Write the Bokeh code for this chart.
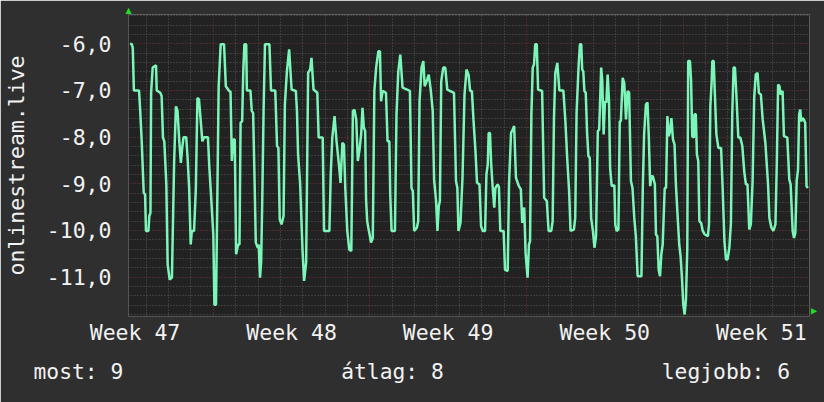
from bokeh.plotting import figure
from bokeh.models import Range1d, FixedTicker, Grid, Title
from bokeh.embed import file_html
from bokeh.resources import INLINE

# ---- data (x: days since Monday of week 47, y: value) ----
days = [
    3.28, 3.36, 3.40, 3.45, 3.68, 3.73, 3.80, 3.89, 3.95, 3.99, 4.10, 4.14, 4.19, 4.22, 4.29, 4.44,
    4.47, 4.63, 4.69, 4.75, 4.81, 4.90, 4.96, 5.05, 5.15, 5.25, 5.33, 5.40, 5.48, 5.55, 5.61, 5.67,
    5.79, 5.85, 5.92, 5.99, 6.04, 6.14, 6.22, 6.29, 6.36, 6.44, 6.51, 6.59, 6.76, 6.82, 6.91, 7.00,
    7.05, 7.12, 7.16, 7.24, 7.33, 7.48, 7.56, 7.71, 7.77, 7.83, 7.89, 7.96, 8.02, 8.11,
    8.17, 8.22, 8.29, 8.34, 8.39, 8.47, 8.50, 8.66, 8.72, 8.78, 8.84, 8.90, 8.99, 9.03, 9.09, 9.14,
    9.19, 9.25, 9.31, 9.51, 9.58, 9.77, 9.85, 9.91, 9.97, 10.05, 10.14, 10.20, 10.29, 10.39, 10.44,
    10.50, 10.69, 10.74, 10.79, 10.88, 10.99, 11.06, 11.15, 11.24, 11.33, 11.39, 11.48, 11.65, 11.71,
    11.89, 11.95, 12.19, 12.25, 12.32, 12.42, 12.51, 12.60, 12.69, 12.77, 12.84, 12.90, 12.99, 13.08,
    13.17,
    13.24, 13.31, 13.39, 13.46, 13.53, 13.61, 13.67, 13.73, 13.79, 13.83, 13.88, 13.93, 13.99, 14.05,
    14.13, 14.20, 14.28, 14.38, 14.45, 14.50, 14.57, 14.72, 14.79, 14.87, 14.91, 14.97, 15.12, 15.19,
    15.27, 15.36, 15.46, 15.79, 15.86, 15.92, 15.98, 16.10, 16.16, 16.22, 16.31, 16.39, 16.45, 16.54,
    16.63, 16.72, 16.81, 16.87, 16.96, 17.02, 17.08, 17.13, 17.19, 17.28, 17.37, 17.46, 17.76, 17.85,
    17.91, 17.96, 18.05, 18.14, 18.23, 18.32,
    18.41, 18.48, 18.56, 18.63, 18.72, 18.79, 18.90, 18.97, 19.05, 19.15, 19.21, 19.27, 19.31, 19.37,
    19.42, 19.48, 19.56, 19.61, 19.71, 19.77, 19.83, 19.98, 20.04, 20.16, 20.22, 20.31, 20.38, 20.45,
    20.53, 20.66, 20.75, 20.81, 20.85, 20.90, 20.96, 21.05, 21.11, 21.16, 21.22, 21.28, 21.34, 21.39,
    21.46, 21.52, 21.70, 21.79, 21.91, 21.99, 22.11, 22.17, 22.23, 22.29, 22.38, 22.47, 22.65, 22.74,
    22.82, 22.91, 22.97, 23.12, 23.18, 23.24, 23.33, 23.39, 23.45,
    23.49, 23.54, 23.59, 23.65, 23.71, 23.77, 23.83, 23.89, 23.97, 24.04, 24.11, 24.19, 24.25, 24.34,
    24.39, 24.45, 24.51, 24.57, 24.63, 24.69, 24.74, 24.81, 24.93, 24.97, 25.03, 25.11, 25.17, 25.22,
    25.30, 25.37, 25.45, 25.52, 25.59, 25.67, 25.74, 25.82, 25.89, 25.97, 26.14, 26.20, 26.26, 26.34,
    26.41, 26.47, 26.53, 26.59, 26.65, 26.74, 26.79, 26.85, 26.91, 26.97, 27.03, 27.09, 27.18, 27.24,
    27.30, 27.36, 27.42, 27.48, 27.55, 27.62, 27.68, 27.77, 27.83, 27.89, 27.95, 28.01, 28.07, 28.13,
    28.19, 28.23, 28.31, 28.36,
    28.41, 28.48, 28.51, 28.57, 28.62, 28.68, 28.73, 28.81, 28.88, 28.96, 29.11, 29.16, 29.22, 29.28,
    29.31, 29.37, 29.42, 29.49, 29.58, 29.70, 29.77, 29.85, 29.92, 29.99, 30.07, 30.14, 30.20, 30.26,
    30.32, 30.38, 30.47, 30.56, 30.65, 30.74, 30.81, 30.88, 30.96, 31.03, 31.11, 31.18, 31.25, 31.33,
    31.39, 31.48, 31.56, 31.68, 31.80, 31.86, 31.95, 32.04, 32.13, 32.19, 32.25, 32.31, 32.36, 32.45,
    32.51, 32.66, 32.75, 32.81, 32.90, 32.96, 33.02, 33.08, 33.14, 33.19, 33.24, 33.28, 33.34, 33.40,
    33.46, 33.52, 33.58,
]

values = [
    -6.00, -6.01, -6.09, -7.00, -7.00, -7.41, -8.09, -9.19, -9.23, -10.01, -10.01, -9.69, -9.62, -7.05, -6.51, -6.46,
    -7.00, -7.05, -7.12, -8.01, -8.09, -9.01, -10.73, -11.05, -11.01, -8.51, -7.34, -7.44, -8.09, -8.55, -8.23, -8.00,
    -8.00, -8.44, -9.09, -10.30, -10.01, -10.01, -9.09, -7.16, -7.19, -7.66, -8.09, -8.00, -8.00, -8.62, -9.34, -10.08,
    -11.59, -11.59, -10.08, -6.91, -6.01, -6.01, -6.91, -7.01, -7.03, -8.51, -8.05, -8.05, -10.51, -10.30,
    -10.30, -7.69, -7.66, -6.59, -6.01, -6.01, -7.00, -7.00, -7.44, -7.48, -8.80, -10.26, -10.37, -10.30, -11.01, -10.66,
    -9.30, -7.37, -6.01, -6.01, -7.00, -7.00, -8.19, -8.23, -9.76, -9.87, -9.69, -7.30, -6.59, -6.12, -6.51,
    -6.98, -7.01, -7.44, -8.37, -8.98, -10.44, -11.08, -10.69, -6.62, -6.55, -6.30, -6.98, -7.05, -8.01,
    -8.01, -10.01, -10.01, -8.80, -8.01, -7.55, -8.09, -8.51, -8.98, -8.12, -8.16, -9.09, -10.01, -10.41,
    -10.44,
    -7.44, -7.41, -7.62, -8.51, -8.30, -7.94, -7.37, -7.80, -7.87, -9.34, -9.80, -9.94, -10.09, -10.26,
    -10.16, -7.01, -6.51, -6.16, -6.16, -7.23, -7.01, -7.05, -8.09, -8.09, -9.23, -10.01, -10.01, -7.51,
    -6.59, -6.23, -6.94, -7.01, -9.09, -9.16, -10.01, -9.94, -9.80, -7.23, -6.51, -6.37, -6.91, -6.80,
    -6.66, -6.98, -7.44, -8.91, -9.37, -10.01, -9.48, -9.37, -6.80, -6.51, -6.51, -6.98, -7.05, -8.94,
    -9.09, -10.01, -9.84, -8.87, -7.09, -6.55,
    -6.66, -7.01, -7.01, -7.62, -8.30, -8.98, -9.01, -9.91, -10.01, -10.01, -8.80, -8.59, -7.91, -7.91,
    -8.55, -9.01, -9.51, -9.09, -9.01, -9.07, -10.01, -10.01, -10.84, -10.87, -9.01, -7.91, -7.84, -7.76,
    -8.87, -9.05, -9.12, -9.84, -9.59, -9.51, -10.48, -11.01, -10.30, -10.23, -7.51, -6.51, -6.44, -6.01,
    -6.01, -6.98, -7.01, -9.30, -9.37, -10.01, -10.01, -9.80, -7.59, -6.62, -6.41, -7.00, -7.00, -7.66,
    -8.44, -9.19, -10.01, -9.98, -9.73, -7.48, -6.48, -6.01, -6.01,
    -6.55, -6.59, -7.01, -7.05, -7.91, -8.41, -8.44, -9.73, -10.01, -10.37, -10.12, -7.87, -7.84, -6.51,
    -6.80, -7.94, -7.23, -7.26, -6.66, -7.23, -8.66, -9.05, -9.03, -9.87, -10.01, -9.98, -7.66, -7.66,
    -6.73, -6.84, -7.62, -7.01, -7.05, -8.94, -9.09, -9.73, -10.12, -10.98, -10.98, -9.09, -7.94, -7.30,
    -7.26, -8.01, -9.05, -8.84, -8.84, -9.01, -10.09, -10.12, -10.84, -10.98, -10.51, -10.30, -9.09, -9.09,
    -7.55, -7.98, -7.87, -7.59, -8.05, -8.16, -9.01, -9.80, -10.30, -10.55, -11.01, -11.59, -11.80, -11.48,
    -10.37, -6.37, -6.37, -6.80,
    -7.98, -8.01, -7.51, -7.51, -8.37, -8.51, -9.80, -9.84, -10.01, -10.08, -10.12, -9.87, -7.34, -6.80,
    -6.37, -6.37, -7.05, -7.94, -8.23, -8.23, -9.09, -10.23, -10.62, -10.62, -10.37, -9.84, -7.51, -6.51,
    -6.51, -7.05, -8.01, -8.01, -8.19, -8.76, -9.01, -9.01, -9.98, -9.87, -8.94, -7.16, -6.66, -6.62,
    -7.05, -7.09, -7.62, -8.12, -9.01, -9.73, -9.94, -10.01, -9.87, -8.59, -6.87, -6.91, -7.09, -7.01,
    -7.98, -8.01, -8.91, -9.01, -10.01, -10.16, -10.05, -8.94, -8.69, -7.51, -7.41, -7.66, -7.59, -7.62,
    -7.69, -9.05, -9.09,
]

y_ticks = [-11, -10, -9, -8, -7, -6]
y_tick_labels = ["-11,0", "-10,0", "-9,0", "-8,0", "-7,0", "-6,0"]
week_centers = [3.5, 10.5, 17.5, 24.5, 31.5]
week_labels = ["Week 47", "Week 48", "Week 49", "Week 50", "Week 51"]
week_starts = [7, 14, 21, 28]
y_title = "onlinestream.live"
legend_texts = ["most: 9", "átlag: 8", "legjobb: 6"]

FONT = "DejaVu Sans Mono"
FS = "21.5px"
TXT = "#f2f2f2"
OUTER = "#2f2f2f"
CANVAS = "#222222"
MINOR = "#585858"
MAJOR = "#733232"
ARROW = "#22dd22"

p = figure(width=824, height=402, output_backend="svg", toolbar_location=None,
           x_range=Range1d(3.209, 33.653), y_range=Range1d(-11.843, -5.372),
           min_border_left=124, min_border_right=15, min_border_top=14, min_border_bottom=86,
           background_fill_color=CANVAS, border_fill_color=OUTER, outline_line_color=None)

p.xgrid.visible = False
p.ygrid.visible = False

day_lines = [d for d in range(4, 34) if d not in week_starts]
minor_y = [round(-11.8 + 0.2 * i, 2) for i in range(33)
           if abs((-11.8 + 0.2 * i) - round(-11.8 + 0.2 * i)) > 0.01]

for dim, ticks, col in [(0, day_lines, MINOR), (1, minor_y, MINOR),
                        (0, week_starts, MAJOR), (1, y_ticks, MAJOR)]:
    p.add_layout(Grid(dimension=dim, ticker=FixedTicker(ticks=ticks),
                      grid_line_color=col, grid_line_dash="1 2", grid_line_width=1))

p.line(days, values, line_color="#7cf5b8", line_width=2.5)

# axes
p.yaxis.ticker = FixedTicker(ticks=y_ticks)
p.yaxis.major_label_overrides = dict(zip(y_ticks, y_tick_labels))
p.xaxis.ticker = FixedTicker(ticks=week_centers)
p.xaxis.major_label_overrides = dict(zip(week_centers, week_labels))
for ax in (p.xaxis, p.yaxis):
    ax.major_label_text_font = FONT
    ax.major_label_text_font_size = FS
    ax.major_label_text_color = TXT
    ax.major_tick_line_color = None
    ax.minor_tick_line_color = None
    ax.major_tick_out = 0
    ax.major_tick_in = 0
    ax.axis_line_color = "#555555"
p.yaxis.major_label_standoff = 17
p.xaxis.major_label_standoff = 3

p.yaxis.axis_label = y_title
p.yaxis.axis_label_standoff = 15
p.yaxis.axis_label_text_font = FONT
p.yaxis.axis_label_text_font_size = FS
p.yaxis.axis_label_text_font_style = "normal"
p.yaxis.axis_label_text_color = TXT

# legend row (monospace, spaced with non-breaking spaces)
gap = "\u00a0" * 17
legend_line = legend_texts[0] + gap + legend_texts[1] + gap + legend_texts[2]
p.add_layout(Title(text=legend_line, align="left", offset=-95, standoff=19,
                   text_font=FONT, text_font_size="21.3px", text_font_style="normal",
                   text_color=TXT), "below")

# axis arrows
p.add_layout(Title(text="▲", align="left", offset=-3, standoff=0,
                   text_font="DejaVu Sans", text_font_size="8px", text_font_style="normal",
                   text_color=ARROW), "above")
p.add_layout(Title(text="▲", align="right", offset=2, standoff=0,
                   text_font="DejaVu Sans", text_font_size="8px", text_font_style="normal",
                   text_color=ARROW), "right")

open("out.html", "w").write(file_html(p, INLINE))
